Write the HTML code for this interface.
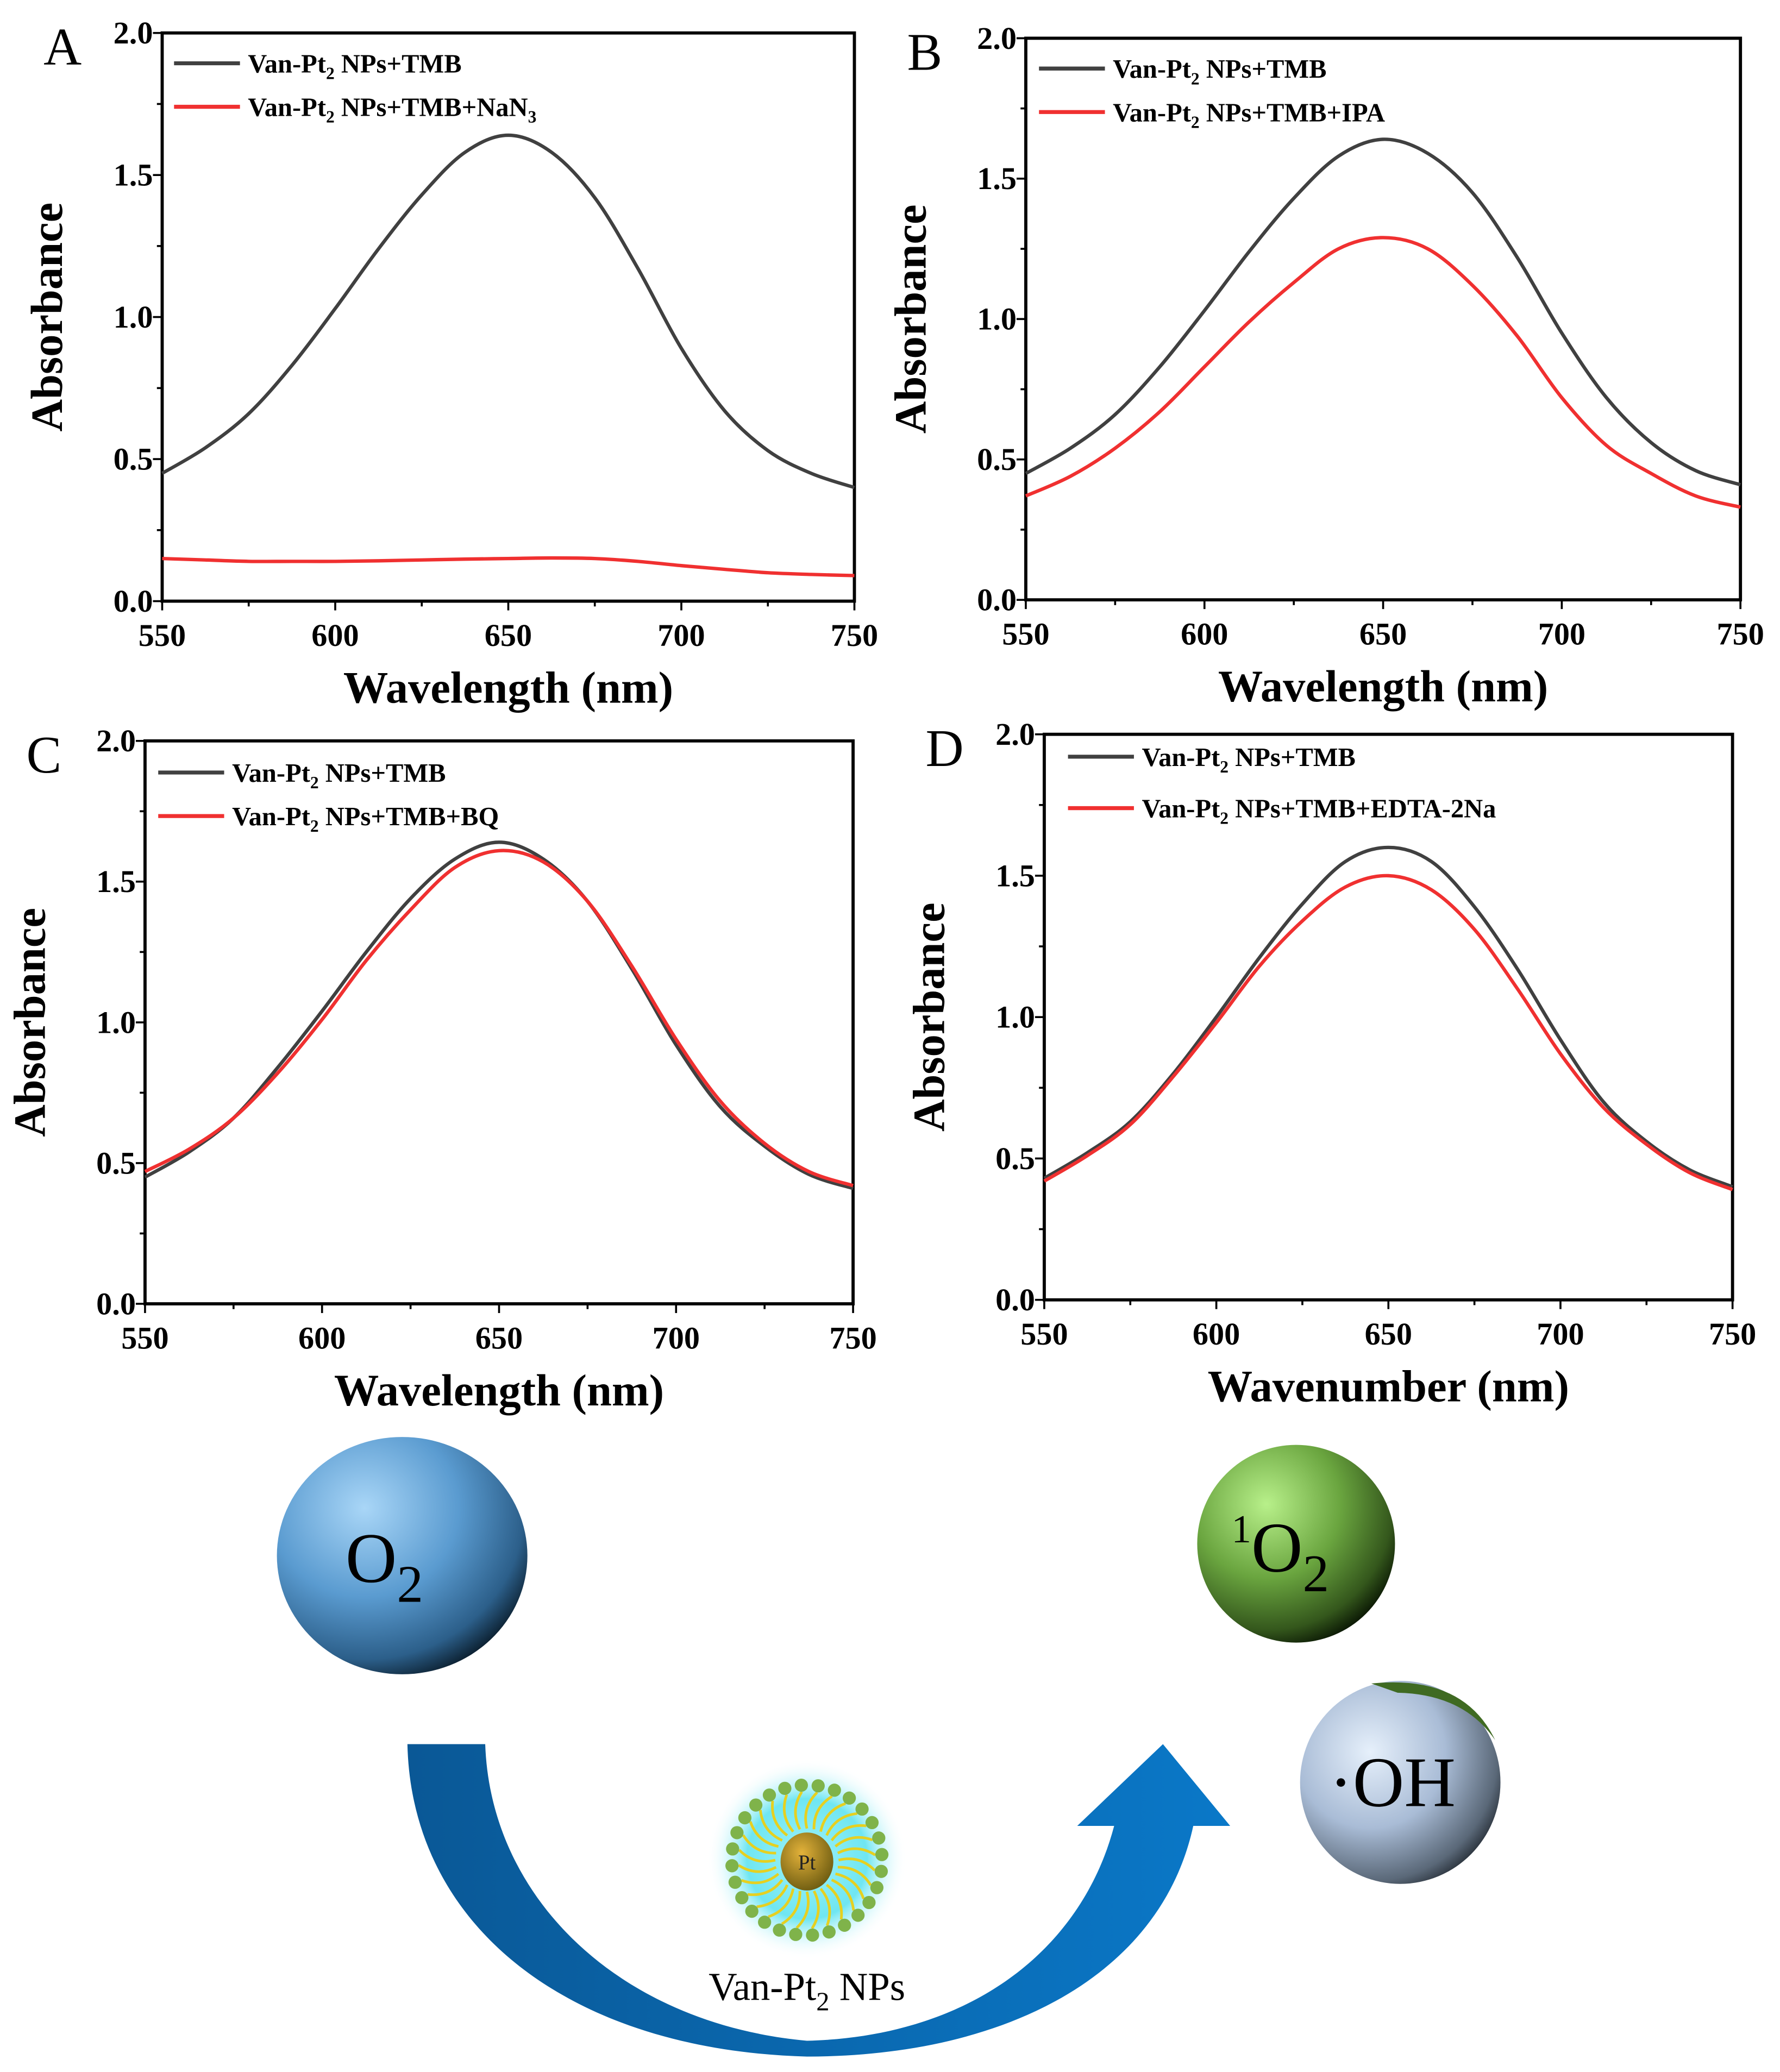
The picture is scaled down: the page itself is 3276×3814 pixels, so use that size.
<!DOCTYPE html>
<html><head><meta charset="utf-8">
<style>
html,body{margin:0;padding:0;background:#fff;}
svg{display:block;}
</style></head>
<body>
<svg id="fig" width="3276" height="3814" viewBox="0 0 1350 1571.7" preserveAspectRatio="none" xmlns="http://www.w3.org/2000/svg" font-family="Liberation Serif, serif">
<defs>
<radialGradient id="gBlue" cx="0.35" cy="0.3" r="0.75"><stop offset="0" stop-color="#a9d6f7"/><stop offset="0.5" stop-color="#5a9bd0"/><stop offset="0.85" stop-color="#2c5f8a"/><stop offset="1" stop-color="#0d2233"/></radialGradient>
<radialGradient id="gGreen" cx="0.35" cy="0.3" r="0.75"><stop offset="0" stop-color="#b8f08a"/><stop offset="0.5" stop-color="#6aa53f"/><stop offset="0.85" stop-color="#34571c"/><stop offset="1" stop-color="#0c1a05"/></radialGradient>
<radialGradient id="gGrey" cx="0.35" cy="0.35" r="0.75"><stop offset="0" stop-color="#e6f0fb"/><stop offset="0.5" stop-color="#a9bcd6"/><stop offset="0.85" stop-color="#5a6878"/><stop offset="1" stop-color="#1a2027"/></radialGradient>
<radialGradient id="gGlow" cx="0.5" cy="0.5" r="0.5"><stop offset="0" stop-color="#9ff2f8"/><stop offset="0.6" stop-color="#6fe6f2"/><stop offset="1" stop-color="#ffffff" stop-opacity="0"/></radialGradient>
<radialGradient id="gPt" cx="0.4" cy="0.35" r="0.7"><stop offset="0" stop-color="#e3b23a"/><stop offset="1" stop-color="#6b5a10"/></radialGradient>
<linearGradient id="gArrow" x1="0" x2="1"><stop offset="0" stop-color="#0a5896"/><stop offset="1" stop-color="#0a78c8"/></linearGradient>
</defs>
<g id="charts"></g>
<g id="scheme">
  <path d="M309 1323 L368 1323 C372 1440 470 1535 612 1548 C735 1545 820 1480 845 1385 L817 1385 L882 1323 L933 1385 L905 1385 C880 1500 760 1560 612 1560 C430 1555 312 1460 309 1323 Z" fill="url(#gArrow)"/>
  <ellipse cx="305" cy="1180" rx="95" ry="90" fill="url(#gBlue)"/>
  <text font-family="Liberation Serif, serif" font-size="54" x="262" y="1200">O<tspan font-size="40" dy="15">2</tspan></text>
  <ellipse cx="983" cy="1171" rx="75" ry="75" fill="url(#gGreen)"/>
  <text font-family="Liberation Serif, serif" font-size="54" x="934" y="1192"><tspan font-size="30" dy="-22">1</tspan><tspan dy="22">O</tspan><tspan font-size="40" dy="15">2</tspan></text>
  <ellipse cx="1062" cy="1352" rx="76" ry="77" fill="url(#gGrey)"/>
  <path d="M1040 1277 Q1110 1270 1134 1320 Q1110 1285 1060 1284 Z" fill="#3f6a22"/>
  <text font-family="Liberation Serif, serif" font-size="54" x="1008" y="1370">·OH</text>
  <circle cx="612" cy="1410" r="76" fill="url(#gGlow)"/>
  <g id="ligands" stroke="#e6d020" stroke-width="2" fill="#7fb34a"></g>
  <ellipse cx="612" cy="1412" rx="20" ry="22" fill="url(#gPt)"/>
  <text x="612" y="1418" text-anchor="middle" font-family="Liberation Serif, serif" font-size="16" fill="#222">Pt</text>
  <text x="612" y="1517" text-anchor="middle" font-family="Liberation Serif, serif" font-size="30" fill="#000">Van-Pt<tspan font-size="20" dy="8">2</tspan><tspan dy="-8"> NPs</tspan></text>
</g>
</svg>
<script>
const NS="http://www.w3.org/2000/svg";
const wavelengths=[550,562.5,575,587.5,600,612.5,625,637.5,650,662.5,675,687.5,700,712.5,725,737.5,750];
const xTicks=[550,600,650,700,750];
const yTicks=[0.0,0.5,1.0,1.5,2.0];
const aBlack=[0.45,0.54,0.66,0.83,1.03,1.24,1.43,1.58,1.64,1.58,1.42,1.17,0.89,0.67,0.53,0.45,0.40];
const aRed=[0.15,0.145,0.14,0.14,0.14,0.142,0.145,0.148,0.15,0.152,0.15,0.14,0.125,0.112,0.10,0.094,0.09];
const bBlack=[0.45,0.54,0.66,0.83,1.03,1.24,1.43,1.58,1.64,1.59,1.45,1.22,0.95,0.72,0.56,0.46,0.41];
const bRed=[0.37,0.44,0.54,0.67,0.83,0.99,1.13,1.25,1.29,1.25,1.12,0.94,0.72,0.55,0.45,0.37,0.33];
const cBlack=[0.45,0.54,0.66,0.84,1.04,1.25,1.44,1.58,1.64,1.58,1.43,1.19,0.92,0.70,0.56,0.46,0.41];
const cRed=[0.47,0.55,0.66,0.82,1.01,1.22,1.40,1.55,1.61,1.57,1.43,1.20,0.94,0.72,0.57,0.47,0.42];
const dBlack=[0.43,0.52,0.63,0.80,1.00,1.21,1.40,1.55,1.60,1.55,1.39,1.17,0.92,0.70,0.56,0.46,0.40];
const dRed=[0.42,0.51,0.62,0.79,0.98,1.18,1.34,1.46,1.50,1.45,1.31,1.10,0.87,0.68,0.55,0.45,0.39];
const panels=[
 {id:"a",letter:"A",x0:123,x1:648,y0:25,y1:456,black:aBlack,red:aRed,xt:"Wavelength (nm)",red2:"+NaN3",ly:54,lx:132},
 {id:"b",letter:"B",x0:778,x1:1320,y0:29,y1:455,black:bBlack,red:bRed,xt:"Wavelength (nm)",red2:"+IPA",ly:58,lx:788},
 {id:"c",letter:"C",x0:110,x1:647,y0:562,y1:989,black:cBlack,red:cRed,xt:"Wavelength (nm)",red2:"+BQ",ly:592,lx:120},
 {id:"d",letter:"D",x0:792,x1:1314,y0:557,y1:986,black:dBlack,red:dRed,xt:"Wavenumber (nm)",red2:"+EDTA-2Na",ly:580,lx:810}
];
function el(tag,attrs,parent){const e=document.createElementNS(NS,tag);for(const k in attrs)e.setAttribute(k,attrs[k]);parent.appendChild(e);return e;}
function smooth(pts){let d="M"+pts[0][0]+" "+pts[0][1];for(let i=0;i<pts.length-1;i++){const p0=pts[Math.max(i-1,0)],p1=pts[i],p2=pts[i+1],p3=pts[Math.min(i+2,pts.length-1)];const c1x=p1[0]+(p2[0]-p0[0])/6,c1y=p1[1]+(p2[1]-p0[1])/6,c2x=p2[0]-(p3[0]-p1[0])/6,c2y=p2[1]-(p3[1]-p1[1])/6;d+=` C${c1x} ${c1y} ${c2x} ${c2y} ${p2[0]} ${p2[1]}`;}return d;}
const F="Liberation Serif, serif";
const root=document.getElementById("charts");
panels.forEach(p=>{
 const g=el("g",{},root);
 
 
 const xs=v=>p.x0+(v-550)/200*(p.x1-p.x0);
 const ys=v=>p.y1-v/2*(p.y1-p.y0);
 const fr=el("rect",{x:p.x0,y:p.y0,width:p.x1-p.x0,height:p.y1-p.y0,fill:"none",stroke:"#000","stroke-width":2.4},g);
 
 
 for(let v=550;v<=750;v+=25){const x=xs(v);const len=v%50===0?7:4;el("line",{x1:x,x2:x,y1:p.y1,y2:p.y1+len,stroke:"#000","stroke-width":1.5},g);}
 xTicks.forEach(v=>{const t=el("text",{x:xs(v),y:p.y1+34,"text-anchor":"middle","font-family":F,"font-weight":"bold","font-size":24},g);t.textContent=v;});
 for(let v=0;v<=2.0001;v+=0.25){const y=ys(v);const len=Math.abs(v*2-Math.round(v*2))<0.01?7:4;el("line",{x1:p.x0,x2:p.x0-len,y1:y,y2:y,stroke:"#000","stroke-width":1.5},g);}
 yTicks.forEach(v=>{const t=el("text",{x:p.x0-7,y:ys(v)+8,"text-anchor":"end","font-family":F,"font-weight":"bold","font-size":24},g);t.textContent=v.toFixed(1);});
 const xt=el("text",{x:(p.x0+p.x1)/2,y:p.y1+77,"text-anchor":"middle","font-family":F,"font-weight":"bold","font-size":34},g);xt.textContent=p.xt;
 
 const ytx=p.x0-76,yty=(p.y0+p.y1)/2;
 const yt=el("text",{x:ytx,y:yty,"text-anchor":"middle","font-family":F,"font-weight":"bold","font-size":34,transform:`rotate(-90 ${ytx} ${yty})`},g);yt.textContent="Absorbance";
 
 const pl=el("text",{x:p.x0-90,y:p.y0+24,"font-family":F,"font-size":40},g);pl.textContent=p.letter;
 
 [[p.black,"#404040"],[p.red,"#f03030"]].forEach(([arr,col],i)=>{
  const pts=wavelengths.map((w,j)=>[xs(w),ys(arr[j])]);
  const path=el("path",{d:smooth(pts),fill:"none",stroke:col,"stroke-width":2.6},g);
  
  
  const ly=p.ly+i*(p.id==="d"?39:33);
  const ll=el("line",{x1:p.lx,x2:p.lx+50,y1:ly-6,y2:ly-6,stroke:col,"stroke-width":3},g);
  
  const lt=el("text",{x:p.lx+56,y:ly+1,"font-family":F,"font-weight":"bold","font-size":20},g);
  
  let suffix=i===0?"":p.red2;
  let html='Van-Pt<tspan font-size="13" dy="5">2</tspan><tspan dy="-5"> NPs+TMB</tspan>';
  if(suffix==="+NaN3") html+='<tspan>+NaN</tspan><tspan font-size="13" dy="5">3</tspan>';
  else if(suffix) html+='<tspan>'+suffix+'</tspan>';
  lt.innerHTML=html;
 });
});
const lg=document.getElementById("ligands");
for(let i=0;i<28;i++){const a=i/28*2*Math.PI;const cx=612,cy=1411;
 const x1=cx+Math.cos(a)*24,y1=cy+Math.sin(a)*24,x2=cx+Math.cos(a+0.15)*52,y2=cy+Math.sin(a+0.15)*52;
 el("path",{d:`M${x1} ${y1} Q${cx+Math.cos(a-0.1)*40} ${cy+Math.sin(a-0.1)*40} ${x2} ${y2}`,fill:"none"},lg);
 el("circle",{cx:cx+Math.cos(a+0.15)*57,cy:cy+Math.sin(a+0.15)*57,r:5,stroke:"none"},lg);}
</script>
</body></html>
